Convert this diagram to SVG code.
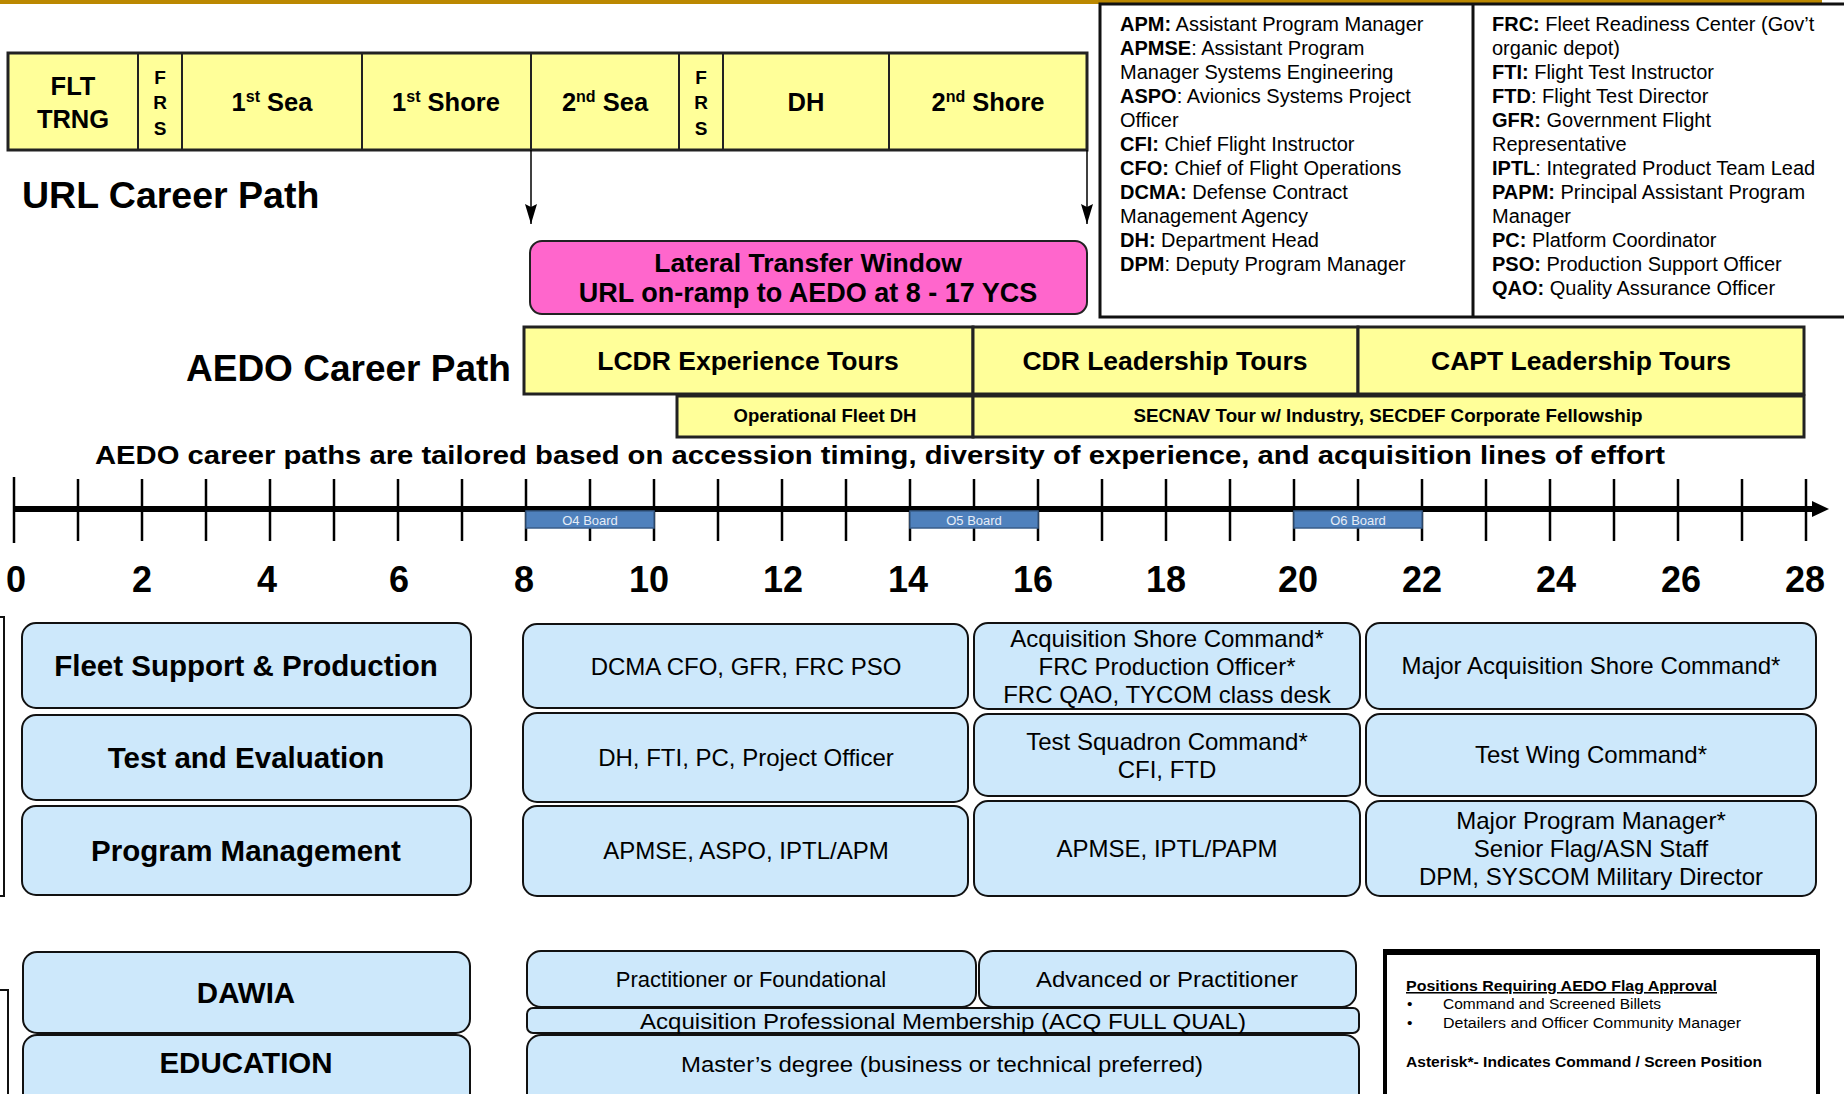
<svg xmlns="http://www.w3.org/2000/svg" width="1844" height="1094" viewBox="0 0 1844 1094">
<defs>
<style>
text{font-family:"Liberation Sans",Arial,Helvetica,sans-serif;fill:#000}
.bd{font-weight:bold}
.m{text-anchor:middle}
.yel{fill:#FFFF99;stroke:#222;stroke-width:3}
.div{stroke:#222;stroke-width:2}
.blue{fill:#CDE8FB;stroke:#111;stroke-width:2}
.url{font-size:25.5px;font-weight:bold;text-anchor:middle}
.frs{font-size:19px;font-weight:bold;text-anchor:middle}
.tour{font-size:26.5px;font-weight:bold;text-anchor:middle}
.tour2{font-size:18.5px;font-weight:bold;text-anchor:middle}
.num{font-size:36px;font-weight:bold;text-anchor:middle}
.tick{stroke:#000;stroke-width:2.5}
.board{fill:#4F81BD;stroke:#385D8A;stroke-width:1.5}
.bt{font-size:13px;fill:#E6EDF7;text-anchor:middle}
.lbl{font-size:29.5px;font-weight:bold;text-anchor:middle}
.pos{font-size:24px;text-anchor:middle}
.pos2{font-size:22px;text-anchor:middle}
.leg{font-size:20px}
.note{font-size:15.5px}
</style>
<marker id="ah" viewBox="0 0 20 12" refX="20" refY="6" markerWidth="20" markerHeight="12" markerUnits="userSpaceOnUse" orient="auto">
<path d="M0,0 L3,6 L0,12 L20,6 Z" fill="#000"/>
</marker>
</defs>
<rect x="0" y="0" width="1844" height="1094" fill="#fff"/>
<rect x="0" y="0" width="1822" height="4" fill="#BB8800"/>

<!-- URL career path bar -->
<g id="url-bar">
<rect class="yel" x="8" y="53" width="1079" height="97"/>
<line class="div" x1="138" y1="53" x2="138" y2="150"/>
<line class="div" x1="182" y1="53" x2="182" y2="150"/>
<line class="div" x1="362" y1="53" x2="362" y2="150"/>
<line class="div" x1="531" y1="53" x2="531" y2="150"/>
<line class="div" x1="679" y1="53" x2="679" y2="150"/>
<line class="div" x1="723" y1="53" x2="723" y2="150"/>
<line class="div" x1="889" y1="53" x2="889" y2="150"/>
</g>
<g id="url-flt"><text class="url" x="73" y="95">FLT</text><text class="url" x="73" y="128">TRNG</text></g>
<g id="url-frs1"><text class="frs" x="160" y="84">F</text><text class="frs" x="160" y="109">R</text><text class="frs" x="160" y="135">S</text></g>
<g id="url-sea1"><text class="url" x="272" y="111">1<tspan font-size="16" dy="-9">st</tspan><tspan dy="9"> Sea</tspan></text></g>
<g id="url-shore1"><text class="url" x="446" y="111">1<tspan font-size="16" dy="-9">st</tspan><tspan dy="9"> Shore</tspan></text></g>
<g id="url-sea2"><text class="url" x="605" y="111">2<tspan font-size="16" dy="-9">nd</tspan><tspan dy="9"> Sea</tspan></text></g>
<g id="url-frs2"><text class="frs" x="701" y="84">F</text><text class="frs" x="701" y="109">R</text><text class="frs" x="701" y="135">S</text></g>
<g id="url-dh"><text class="url" x="806" y="111">DH</text></g>
<g id="url-shore2"><text class="url" x="988" y="111">2<tspan font-size="16" dy="-9">nd</tspan><tspan dy="9"> Shore</tspan></text></g>

<g id="url-title"><text class="bd" x="22" y="208" font-size="37.5">URL Career Path</text></g>

<g id="connectors">
<line x1="531" y1="150" x2="531" y2="224" stroke="#000" stroke-width="1.5" marker-end="url(#ah)"/>
<line x1="1087" y1="150" x2="1087" y2="224" stroke="#000" stroke-width="1.5" marker-end="url(#ah)"/>
</g>

<g id="lateral-window">
<rect x="530" y="241" width="557" height="73" rx="12" fill="#FF66CC" stroke="#222" stroke-width="2"/>
<text class="bd m" x="808" y="272" font-size="26.5">Lateral Transfer Window</text>
<text class="bd m" x="808" y="302" font-size="27">URL on-ramp to AEDO at 8 - 17 YCS</text>
</g>

<!-- legend -->
<g id="legend">
<rect x="1100" y="4" width="760" height="313" fill="#fff" stroke="#111" stroke-width="3"/>
<line x1="1473" y1="4" x2="1473" y2="317" stroke="#111" stroke-width="3"/>
<text class="leg" x="1120" y="31"><tspan class="bd">APM:</tspan> Assistant Program Manager</text>
<text class="leg" x="1120" y="55"><tspan class="bd">APMSE</tspan>: Assistant Program</text>
<text class="leg" x="1120" y="79">Manager Systems Engineering</text>
<text class="leg" x="1120" y="103"><tspan class="bd">ASPO</tspan>: Avionics Systems Project</text>
<text class="leg" x="1120" y="127">Officer</text>
<text class="leg" x="1120" y="151"><tspan class="bd">CFI:</tspan> Chief Flight Instructor</text>
<text class="leg" x="1120" y="175"><tspan class="bd">CFO:</tspan> Chief of Flight Operations</text>
<text class="leg" x="1120" y="199"><tspan class="bd">DCMA:</tspan> Defense Contract</text>
<text class="leg" x="1120" y="223">Management Agency</text>
<text class="leg" x="1120" y="247"><tspan class="bd">DH:</tspan> Department Head</text>
<text class="leg" x="1120" y="271"><tspan class="bd">DPM</tspan>: Deputy Program Manager</text>
<text class="leg" x="1492" y="31"><tspan class="bd">FRC:</tspan> Fleet Readiness Center (Gov’t</text>
<text class="leg" x="1492" y="55">organic depot)</text>
<text class="leg" x="1492" y="79"><tspan class="bd">FTI:</tspan> Flight Test Instructor</text>
<text class="leg" x="1492" y="103"><tspan class="bd">FTD</tspan>: Flight Test Director</text>
<text class="leg" x="1492" y="127"><tspan class="bd">GFR:</tspan> Government Flight</text>
<text class="leg" x="1492" y="151">Representative</text>
<text class="leg" x="1492" y="175"><tspan class="bd">IPTL</tspan>: Integrated Product Team Lead</text>
<text class="leg" x="1492" y="199"><tspan class="bd">PAPM:</tspan> Principal Assistant Program</text>
<text class="leg" x="1492" y="223">Manager</text>
<text class="leg" x="1492" y="247"><tspan class="bd">PC:</tspan> Platform Coordinator</text>
<text class="leg" x="1492" y="271"><tspan class="bd">PSO:</tspan> Production Support Officer</text>
<text class="leg" x="1492" y="295"><tspan class="bd">QAO:</tspan> Quality Assurance Officer</text>
</g>

<!-- AEDO career path -->
<g id="aedo-title"><text class="bd" x="186" y="381" font-size="37">AEDO Career Path</text></g>
<g id="tour-lcdr"><rect class="yel" x="524" y="327" width="449" height="67"/><text class="tour" x="748" y="370">LCDR Experience Tours</text></g>
<g id="tour-cdr"><rect class="yel" x="973" y="327" width="385" height="67"/><text class="tour" x="1165" y="370">CDR Leadership Tours</text></g>
<g id="tour-capt"><rect class="yel" x="1358" y="327" width="446" height="67"/><text class="tour" x="1581" y="370">CAPT Leadership Tours</text></g>
<g id="tour-opdh"><rect class="yel" x="677" y="396" width="296" height="41"/><text class="tour2" x="825" y="422">Operational Fleet DH</text></g>
<g id="tour-secnav"><rect class="yel" x="973" y="396" width="831" height="41"/><text class="tour2" x="1388" y="422" textLength="509" lengthAdjust="spacingAndGlyphs">SECNAV Tour w/ Industry, SECDEF Corporate Fellowship</text></g>

<g id="tagline"><text class="bd" x="95" y="464" font-size="26" textLength="1570" lengthAdjust="spacingAndGlyphs">AEDO career paths are tailored based on accession timing, diversity of experience, and acquisition lines of effort</text></g>

<!-- timeline -->
<g id="timeline">
<g class="tick">
<line x1="14" y1="477" x2="14" y2="543"/><line x1="78" y1="479" x2="78" y2="541"/><line x1="142" y1="479" x2="142" y2="541"/><line x1="206" y1="479" x2="206" y2="541"/>
<line x1="270" y1="479" x2="270" y2="541"/><line x1="334" y1="479" x2="334" y2="541"/><line x1="398" y1="479" x2="398" y2="541"/><line x1="462" y1="479" x2="462" y2="541"/>
<line x1="526" y1="479" x2="526" y2="541"/><line x1="590" y1="479" x2="590" y2="541"/><line x1="654" y1="479" x2="654" y2="541"/><line x1="718" y1="479" x2="718" y2="541"/>
<line x1="782" y1="479" x2="782" y2="541"/><line x1="846" y1="479" x2="846" y2="541"/><line x1="910" y1="479" x2="910" y2="541"/><line x1="974" y1="479" x2="974" y2="541"/>
<line x1="1038" y1="479" x2="1038" y2="541"/><line x1="1102" y1="479" x2="1102" y2="541"/><line x1="1166" y1="479" x2="1166" y2="541"/><line x1="1230" y1="479" x2="1230" y2="541"/>
<line x1="1294" y1="479" x2="1294" y2="541"/><line x1="1358" y1="479" x2="1358" y2="541"/><line x1="1422" y1="479" x2="1422" y2="541"/><line x1="1486" y1="479" x2="1486" y2="541"/>
<line x1="1550" y1="479" x2="1550" y2="541"/><line x1="1614" y1="479" x2="1614" y2="541"/><line x1="1678" y1="479" x2="1678" y2="541"/><line x1="1742" y1="479" x2="1742" y2="541"/>
<line x1="1806" y1="479" x2="1806" y2="541"/>
</g>
<line x1="14" y1="509" x2="1815" y2="509" stroke="#000" stroke-width="6"/>
<polygon points="1812,501 1829,509 1812,517" fill="#000"/>
<text class="num" x="16" y="592">0</text><text class="num" x="142" y="592">2</text><text class="num" x="267" y="592">4</text><text class="num" x="399" y="592">6</text>
<text class="num" x="524" y="592">8</text><text class="num" x="649" y="592">10</text><text class="num" x="783" y="592">12</text><text class="num" x="908" y="592">14</text>
<text class="num" x="1033" y="592">16</text><text class="num" x="1166" y="592">18</text><text class="num" x="1298" y="592">20</text><text class="num" x="1422" y="592">22</text>
<text class="num" x="1556" y="592">24</text><text class="num" x="1681" y="592">26</text><text class="num" x="1805" y="592">28</text>
</g>
<g id="board-o4"><rect class="board" x="526" y="511" width="128" height="17"/><text class="bt" x="590" y="525">O4 Board</text></g>
<g id="board-o5"><rect class="board" x="910" y="511" width="128" height="17"/><text class="bt" x="974" y="525">O5 Board</text></g>
<g id="board-o6"><rect class="board" x="1294" y="511" width="128" height="17"/><text class="bt" x="1358" y="525">O6 Board</text></g>

<!-- left partial brackets -->
<rect x="-20" y="617" width="24" height="279" fill="none" stroke="#111" stroke-width="2"/>
<rect x="-20" y="990" width="28" height="120" fill="none" stroke="#111" stroke-width="2"/>

<!-- lines of effort -->
<g id="loe-fleet"><rect class="blue" x="22" y="623" width="449" height="85" rx="14"/><text class="lbl" x="246" y="676">Fleet Support &amp; Production</text></g>
<g id="loe-test"><rect class="blue" x="22" y="715" width="449" height="85" rx="14"/><text class="lbl" x="246" y="768">Test and Evaluation</text></g>
<g id="loe-pm"><rect class="blue" x="22" y="806" width="449" height="89" rx="14"/><text class="lbl" x="246" y="861">Program Management</text></g>

<g id="lcdr-fleet"><rect class="blue" x="523" y="624" width="445" height="84" rx="14"/><text class="pos" x="746" y="675">DCMA CFO, GFR, FRC PSO</text></g>
<g id="lcdr-test"><rect class="blue" x="523" y="713" width="445" height="89" rx="14"/><text class="pos" x="746" y="766">DH, FTI, PC, Project Officer</text></g>
<g id="lcdr-pm"><rect class="blue" x="523" y="806" width="445" height="90" rx="14"/><text class="pos" x="746" y="859">APMSE, ASPO, IPTL/APM</text></g>

<g id="cdr-fleet"><rect class="blue" x="974" y="623" width="386" height="86" rx="14"/>
<text class="pos" x="1167" y="647">Acquisition Shore Command*</text>
<text class="pos" x="1167" y="675">FRC Production Officer*</text>
<text class="pos" x="1167" y="703">FRC QAO, TYCOM class desk</text></g>
<g id="cdr-test"><rect class="blue" x="974" y="714" width="386" height="82" rx="14"/>
<text class="pos" x="1167" y="750">Test Squadron Command*</text>
<text class="pos" x="1167" y="778">CFI, FTD</text></g>
<g id="cdr-pm"><rect class="blue" x="974" y="801" width="386" height="95" rx="14"/><text class="pos" x="1167" y="857">APMSE, IPTL/PAPM</text></g>

<g id="capt-fleet"><rect class="blue" x="1366" y="623" width="450" height="86" rx="14"/><text class="pos" x="1591" y="674">Major Acquisition Shore Command*</text></g>
<g id="capt-test"><rect class="blue" x="1366" y="714" width="450" height="82" rx="14"/><text class="pos" x="1591" y="763">Test Wing Command*</text></g>
<g id="capt-pm"><rect class="blue" x="1366" y="801" width="450" height="95" rx="14"/>
<text class="pos" x="1591" y="829">Major Program Manager*</text>
<text class="pos" x="1591" y="857">Senior Flag/ASN Staff</text>
<text class="pos" x="1591" y="885">DPM, SYSCOM Military Director</text></g>

<!-- DAWIA / EDUCATION -->
<g id="dawia"><rect class="blue" x="23" y="952" width="447" height="81" rx="14"/><text class="lbl" x="246" y="1003">DAWIA</text></g>
<g id="education"><rect class="blue" x="23" y="1035" width="447" height="80" rx="14"/><text class="lbl" x="246" y="1073">EDUCATION</text></g>
<g id="dawia-lcdr"><rect class="blue" x="527" y="951" width="449" height="56" rx="14"/><text class="pos2" x="751" y="987">Practitioner or Foundational</text></g>
<g id="dawia-cdr"><rect class="blue" x="979" y="951" width="377" height="56" rx="14"/><text class="pos2" x="1167" y="987" textLength="262" lengthAdjust="spacingAndGlyphs">Advanced or Practitioner</text></g>
<g id="acq"><rect class="blue" x="527" y="1008" width="832" height="25" rx="6"/><text class="pos2" x="943" y="1029" textLength="606" lengthAdjust="spacingAndGlyphs">Acquisition Professional Membership (ACQ FULL QUAL)</text></g>
<g id="masters"><rect class="blue" x="527" y="1035" width="832" height="80" rx="14"/><text class="pos2" x="942" y="1072" textLength="522" lengthAdjust="spacingAndGlyphs">Master’s degree (business or technical preferred)</text></g>

<g id="flag-note">
<rect x="1385" y="952" width="433" height="160" fill="#fff" stroke="#000" stroke-width="4"/>
<line x1="1383" y1="952" x2="1820" y2="952" stroke="#000" stroke-width="6"/>
<text class="note bd" x="1406" y="991" text-decoration="underline" textLength="311" lengthAdjust="spacingAndGlyphs">Positions Requiring AEDO Flag Approval</text>
<text class="note" x="1407" y="1009">•</text>
<text class="note" x="1443" y="1009">Command and Screened Billets</text>
<text class="note" x="1407" y="1028">•</text>
<text class="note" x="1443" y="1028" textLength="298" lengthAdjust="spacingAndGlyphs">Detailers and Officer Community Manager</text>
<text class="note bd" x="1406" y="1067" textLength="356" lengthAdjust="spacingAndGlyphs">Asterisk*- Indicates Command / Screen Position</text>
</g>
</svg>
